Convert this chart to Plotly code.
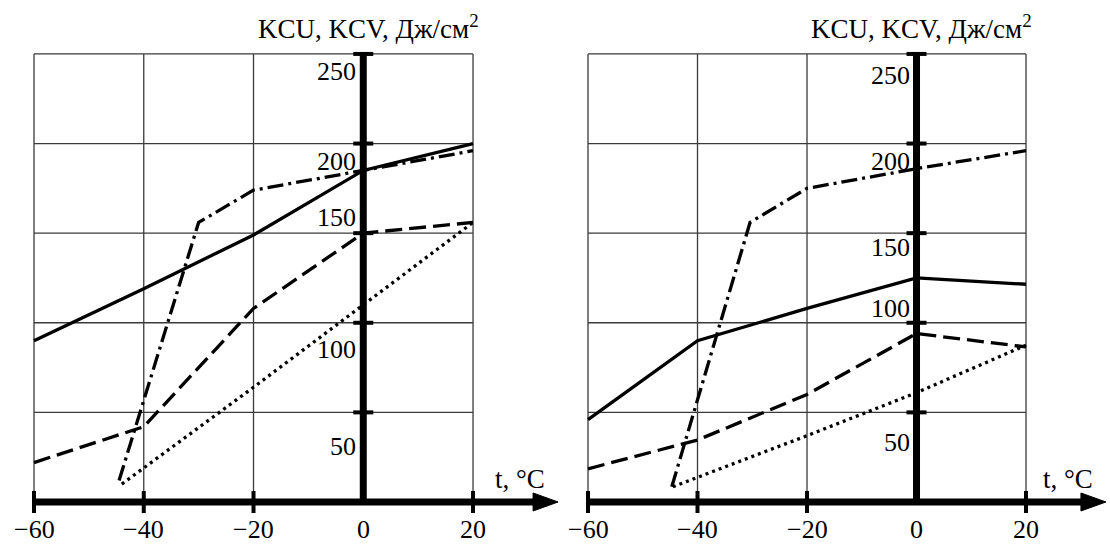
import plotly.graph_objects as go

# ---------------- data ----------------
x_ticks = [-60, -40, -20, 0, 20]
x_tick_text = ["\u221260", "\u221240", "\u221220", "0", "20"]
y_ticks = [50, 100, 150, 200, 250]
y_tick_text = ["50", "100", "150", "200", "250"]

# left panel
L_solid_t = [-60, -40, -20, 0, 20]
L_solid_v = [90, 119, 149, 185, 200]
L_dashdot_t = [-44.5, -30, -20, 0, 20]
L_dashdot_v = [12, 156, 174, 185, 196]
L_dash_t = [-60, -40, -20, 0, 20]
L_dash_v = [22, 42, 108, 150, 156]
L_dot_t = [-44, -20, 0, 20]
L_dot_v = [10, 64, 110, 156]

# right panel
R_solid_t = [-60, -40, -20, 0, 20]
R_solid_v = [46, 90, 108, 125, 121.5]
R_dashdot_t = [-44.7, -30.4, -20, 0, 20]
R_dashdot_v = [8.5, 156, 175, 186, 196]
R_dash_t = [-60, -40, -20, 0, 20]
R_dash_v = [18.5, 34.6, 60, 94, 86.5]
R_dot_t = [-44.5, -20, 0, 20]
R_dot_v = [8.5, 37, 61, 87.5]

y_title = "KCU, KCV, \u0414\u0436/\u0441\u043c<sup>2</sup>"
x_title = "t, \u00b0C"

# label placement (value units) for y tick labels in each panel
L_ylabel_pos = [31, 85, 159, 190, 240]
R_ylabel_pos = [33, 108, 142, 190, 238]

FONT = "Liberation Serif"

fig = go.Figure()

styles = {
    "solid": "solid",
    "dashdot": "16px,5px,3px,5px",
    "dash": "17px,7px",
    "dot": "3px,4px",
}

panels = [
    ("x", "y", [(L_solid_t, L_solid_v, "solid"), (L_dashdot_t, L_dashdot_v, "dashdot"),
                (L_dash_t, L_dash_v, "dash"), (L_dot_t, L_dot_v, "dot")], L_ylabel_pos, 35.5),
    ("x2", "y2", [(R_solid_t, R_solid_v, "solid"), (R_dashdot_t, R_dashdot_v, "dashdot"),
                  (R_dash_t, R_dash_v, "dash"), (R_dot_t, R_dot_v, "dot")], R_ylabel_pos, 34.6),
]

shapes = []
annotations = []
grid_color = "#3a3a3a"

for xr, yr, series, ylab_pos, tip in panels:
    for t, v, st in series:
        fig.add_trace(go.Scatter(x=t, y=v, xaxis=xr, yaxis=yr, mode="lines",
                                 line=dict(color="black", width=3.3, dash=styles[st]),
                                 showlegend=False, hoverinfo="skip"))
    # grid
    for xv in x_ticks:
        if xv == 0:
            continue
        shapes.append(dict(type="line", xref=xr, yref=yr, x0=xv, x1=xv, y0=0, y1=y_ticks[-1],
                           line=dict(color=grid_color, width=1.3), layer="below"))
    for yv in y_ticks:
        shapes.append(dict(type="line", xref=xr, yref=yr, x0=x_ticks[0], x1=x_ticks[-1], y0=yv, y1=yv,
                           line=dict(color=grid_color, width=1.3), layer="below"))
    # thick axes
    shapes.append(dict(type="line", xref=xr, yref=yr, x0=0, x1=0, y0=0, y1=y_ticks[-1],
                       line=dict(color="black", width=7), layer="above"))
    shapes.append(dict(type="line", xref=xr, yref=yr, x0=x_ticks[0], x1=tip - 2.5, y0=0, y1=0,
                       line=dict(color="black", width=7), layer="above"))
    shapes.append(dict(type="path", xref=xr, yref=yr, xsizemode="pixel", ysizemode="pixel",
                       xanchor=tip, yanchor=0, path="M -25,-9 L 0,0 L -25,9 Z",
                       fillcolor="black", line=dict(color="black", width=1), layer="above"))
    # tick marks
    for yv in y_ticks:
        shapes.append(dict(type="line", xref=xr, yref=yr, xsizemode="pixel", xanchor=0,
                           x0=-10, x1=10, y0=yv, y1=yv, line=dict(color="black", width=4), layer="above"))
    for xv in x_ticks:
        if xv == 0:
            continue
        shapes.append(dict(type="line", xref=xr, yref=yr, ysizemode="pixel", yanchor=0,
                           x0=xv, x1=xv, y0=-11, y1=11, line=dict(color="black", width=4), layer="above"))
    # tick labels
    for xv, txt in zip(x_ticks, x_tick_text):
        annotations.append(dict(xref=xr, yref=yr, x=xv, y=-15.5, text=txt, showarrow=False,
                                xanchor="center", yanchor="middle",
                                font=dict(family=FONT, size=26, color="black")))
    for yp, txt in zip(ylab_pos, y_tick_text):
        annotations.append(dict(xref=xr, yref=yr, x=0, y=yp, text=txt, showarrow=False,
                                xanchor="right", yanchor="middle", xshift=-5,
                                font=dict(family=FONT, size=26, color="black")))
    # axis titles
    annotations.append(dict(xref=xr, yref=yr, x=1, y=265, text=y_title, showarrow=False,
                            xanchor="center", yanchor="middle",
                            font=dict(family=FONT, size=27, color="black")))
    annotations.append(dict(xref=xr, yref=yr, x=tip - 2, y=13, text=x_title, showarrow=False,
                            xanchor="right", yanchor="middle",
                            font=dict(family=FONT, size=27, color="black")))

ax_common = dict(visible=False, showgrid=False, zeroline=False, fixedrange=True)
fig.update_layout(
    width=1110, height=545,
    margin=dict(l=0, r=0, t=0, b=0),
    paper_bgcolor="white", plot_bgcolor="white",
    xaxis=dict(domain=[0, 0.51], range=[-66.196, 36.96], **ax_common),
    yaxis=dict(domain=[0, 1], range=[-24.0, 280.1], **ax_common),
    xaxis2=dict(domain=[0.51, 1], range=[-64.0, 35.34], anchor="y2", **ax_common),
    yaxis2=dict(domain=[0, 1], range=[-24.0, 280.1], anchor="x2", **ax_common),
    shapes=shapes,
    annotations=annotations,
    showlegend=False,
)

fig.write_html("out.html", config={"displayModeBar": False},
               post_script="document.body.style.margin='0';document.body.style.overflow='hidden';")
